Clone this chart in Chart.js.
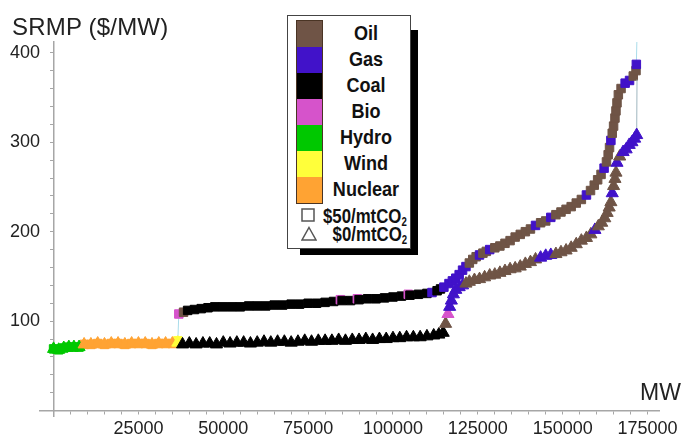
<!DOCTYPE html>
<html>
<head>
<meta charset="utf-8">
<script src="https://cdn.jsdelivr.net/npm/chart.js@4.4.1/dist/chart.umd.min.js"></script>
<style>
  html, body { margin: 0; padding: 0; background: #fff; }
  #wrap { position: relative; width: 683px; height: 439px; overflow: hidden;
          font-family: "Liberation Sans", Arial, sans-serif; color: #222; }
  #c { position: absolute; left: 0; top: 0; }
  .ttl { position: absolute; line-height: 1; white-space: nowrap; }
  #yTitle { left: 12px; top: 15px; font-size: 24px; letter-spacing: 0.2px; }
  #xTitle { left: 640px; top: 381px; font-size: 23px; }
  #legendShadow { position: absolute; left: 300px; top: 30px; width: 118px; height: 225px; background: #000; }
  #legend { position: absolute; left: 287px; top: 15px; width: 122px; height: 232px;
            background: #fff; border: 1.5px solid #444;
            font-family: "Liberation Sans", Arial, sans-serif; font-weight: bold; color: #111; }
  #swatches { position: absolute; left: 8px; top: 4px; width: 25px; border: 1px solid #4a3424; }
  .sw { height: 26px; }
  .fuelLabel { position: absolute; left: 36px; width: 84px; height: 26px; line-height: 26px;
               text-align: center; font-size: 21px; transform: scaleX(0.86); transform-origin: 50% 50%; }
  .co2 { position: absolute; right: 3px; height: 18px; line-height: 18px; font-size: 21px; white-space: nowrap;
         transform: scaleX(0.8); transform-origin: 100% 50%; }
  .co2 sub { font-size: 12px; vertical-align: -3px; line-height: 0; }
  .sym { position: absolute; left: 13px; }
</style>
</head>
<body>
<div id="wrap">
  <canvas id="c" width="683" height="439"></canvas>
  <div class="ttl" id="yTitle">SRMP ($/MW)</div>
  <div class="ttl" id="xTitle">MW</div>
  <div id="legendShadow"></div>
  <div id="legend"></div>
</div>
<script>
// Fuel types in merit-order legend order, with their marker colours
const fuelNames = ['Oil', 'Gas', 'Coal', 'Bio', 'Hydro', 'Wind', 'Nuclear'];
const fuelCodes = ['O', 'G', 'C', 'B', 'H', 'W', 'N'];
const fuelColors = ['#6f5446', '#4112c9', '#000000', '#d653cb', '#00c800', '#ffff3a', '#ffa333'];

// Supply curve at $50/mtCO2 (cumulative capacity in MW, short-run marginal price in $/MW)
const mw50 = [
  0, 1500, 3000, 4500, 6000, 7500,
  9000, 11000, 13000, 15000, 17000, 19000, 21000, 23000, 25000, 27000, 29000, 31000, 33000, 35000,
  36600, 36900, 38300,
  39500, 41500, 43500, 45500, 47500, 50000, 52500, 55000, 57500, 60000,
  62500, 65000, 67500, 70000, 72500, 75000, 77500, 80000, 82500, 84500,
  85000, 87500, 89500, 90000, 92500, 95000, 97500, 100000, 102500, 104500,
  105000, 107500, 110000,
  111500, 113000, 114000, 115000, 116500, 117500, 118500, 119500, 120500, 121500,
  122500, 123500, 124500, 125500, 126500, 127500, 128500, 130000, 131500, 133000,
  134500, 136000, 137500, 139000, 140500, 142000, 143500, 145000, 146500, 148000,
  149500, 151000, 152500, 154000, 155500, 157000, 158200, 159300, 160300, 161300,
  162200, 162900, 163400, 163800, 164200, 164600, 165000, 165400, 165700, 166000,
  166400, 167200, 168400, 169700, 170800, 171600, 171700, 171900
];
const price50 = [
  69, 68, 70, 71, 71, 71,
  74, 74, 75, 74, 75, 75, 74, 75, 75, 75, 74, 75, 75, 75,
  78, 108, 110,
  112, 113, 114, 115, 116, 116, 116, 116, 117, 117,
  117, 118, 118, 119, 119, 120, 120, 121, 122, 124,
  123, 123, 125, 124, 125, 125, 126, 127, 128, 130,
  129, 130, 131,
  132, 134, 136, 138, 142, 145, 148, 152, 157, 161,
  165, 169, 172, 174, 176, 178, 180, 182, 184, 187,
  190, 194, 197, 200, 203, 207, 210, 212, 216, 219,
  222, 225, 228, 232, 236, 241, 246, 252, 258, 264,
  271, 278, 286, 294, 302, 310, 318, 327, 335, 344,
  353, 360, 366, 369, 374, 380, 387, 420
];
const fuel50 = [
  'H','H','H','H','H','H',
  'N','N','N','N','N','N','N','N','N','N','N','N','N','N',
  'W','B','O',
  'C','C','C','C','C','C','C','C','C','C',
  'C','C','C','C','C','C','C','C','C','B',
  'C','C','B','C','C','C','C','C','C','B',
  'C','C','C',
  'G','C','C','G','G','G','G','G','G','G',
  'O','O','O','G','O','O','G','O','O','O',
  'O','O','O','O','O','G','O','O','G','O',
  'O','O','O','O','O','G','O','O','O','O',
  'G','O','O','O','G','O','O','O','O','O',
  'O','O','G','G','O','O','G','-'
];

// Supply curve at $0/mtCO2
const mw0 = [
  0, 1500, 3000, 4500, 6000, 7500,
  9000, 11000, 13000, 15000, 17000, 19000, 21000, 23000, 25000, 27000, 29000, 31000, 33000, 35000,
  36600,
  38000, 40000, 42000, 44000, 46000, 48000, 50000, 52000, 54000, 56000,
  58000, 60000, 62000, 64000, 66000, 68000, 70000, 72000, 74000, 76000,
  78000, 80000, 82000, 84000, 86000, 88000, 90000, 92000, 94000, 96000,
  98000, 100000, 102000, 104000, 106000, 108000, 110000, 112000, 113500, 114800,
  115500, 116200, 116700, 117200, 117800, 118500, 119500, 120500, 121500, 122500,
  124000, 125500, 127000, 128500, 130000, 131500, 133000, 134500, 136000, 137500,
  139000, 140500, 142000, 143500, 145000, 146500, 148000, 149500, 151000, 152500,
  154000, 155500, 157000, 158300, 159500, 160500, 161500, 162400, 163100, 163700,
  164200, 164600, 165000, 165400, 165700, 166000, 166800, 167800, 168700, 169600,
  170400, 171200, 171800, 171900
];
const price0 = [
  69, 68, 70, 71, 71, 71,
  74, 74, 75, 74, 75, 75, 74, 75, 75, 75, 74, 75, 75, 75,
  76,
  74, 75, 74, 75, 75, 74, 76, 75, 76, 76,
  75, 76, 77, 76, 77, 77, 76, 77, 78, 77,
  78, 78, 78, 79, 78, 79, 79, 80, 79, 80,
  80, 81, 81, 82, 82, 82, 83, 84, 85, 87,
  97, 108, 116, 123, 130, 135, 138, 140, 142, 144,
  146, 147, 149, 151, 152, 154, 156, 158, 159, 161,
  164, 166, 169, 171, 173, 174, 175, 177, 179, 182,
  186, 190, 193, 197, 202, 206, 210, 215, 221, 227,
  233, 243, 251, 259, 266, 277, 284, 289, 292, 297,
  300, 304, 308, 370
];
const fuel0 = [
  'H','H','H','H','H','H',
  'N','N','N','N','N','N','N','N','N','N','N','N','N','N',
  'W',
  'C','C','C','C','C','C','C','C','C','C',
  'C','C','C','C','C','C','C','C','C','C',
  'C','C','C','C','C','C','C','C','C','C',
  'C','C','C','C','C','C','C','C','C','C',
  'O','B','G','G','G','G','G','G','O','O',
  'O','O','O','O','O','O','O','O','O','O',
  'O','O','O','G','G','G','O','O','O','O',
  'O','O','O','O','G','O','O','O','O','O',
  'O','G','O','O','O','G','O','G','G','G',
  'G','G','G','-'
];

// Axis ticks: labelled majors with small minor marks between them
const xMajorStep = 25000, xMinorStep = 5000, xLastTick = 175000;
const yMajorStep = 100, yMinorStep = 20, yLastTick = 400;

function tickValues(step, last) {
  const out = [];
  for (let v = 0; v <= last; v += step) out.push({ value: v });
  return out;
}

function colorOf(code) {
  const i = fuelCodes.indexOf(code);
  return i < 0 ? 'rgba(0,0,0,0)' : fuelColors[i];
}

function makeSeries(label, mw, price, fuel, shape, radius, lineColor, order) {
  const cols = fuel.map(colorOf);
  return {
    label,
    data: mw.map((x, i) => ({ x, y: price[i] })),
    showLine: true,
    borderColor: lineColor,
    borderWidth: 1,
    pointStyle: shape,
    pointRadius: fuel.map(f => f === '-' ? 0 : radius),
    pointBackgroundColor: cols,
    pointBorderColor: cols,
    pointBorderWidth: 1,
    order
  };
}

const axisGrey = '#a6a6a6';
const tickFont = { family: 'Liberation Sans', size: 18 };
// A y axis pinned at x = 0 right-aligns its labels on the axis line itself,
// so trailing spacing keeps them clear of the line
const yLabelGap = '  \u2009';

new Chart(document.getElementById('c'), {
  type: 'scatter',
  data: {
    datasets: [
      makeSeries('$0/mtCO2', mw0, price0, fuel0, 'triangle', 7, '#9fb6bf', 0),
      makeSeries('$50/mtCO2', mw50, price50, fuel50, 'rect', 6, '#a9dcea', 1)
    ]
  },
  options: {
    responsive: false,
    animation: false,
    devicePixelRatio: 1,
    layout: { padding: { left: 40, right: 23, top: 42, bottom: 23 } },
    plugins: { legend: { display: false }, tooltip: { enabled: false } },
    scales: {
      x: {
        type: 'linear', min: -4000, max: 178400, position: { y: 0 },
        afterBuildTicks: s => { s.ticks = tickValues(xMinorStep, xLastTick); },
        grid: { drawOnChartArea: false, drawTicks: true, tickLength: 3, color: axisGrey },
        border: { color: axisGrey, width: 1.5 },
        ticks: {
          autoSkip: false, maxRotation: 0, minRotation: 0,
          padding: 5, color: '#222', font: tickFont,
          callback: v => (v > 0 && v % xMajorStep === 0) ? String(v) : ''
        }
      },
      y: {
        type: 'linear', min: -6, max: 412, position: { x: 0 },
        afterBuildTicks: s => { s.ticks = tickValues(yMinorStep, yLastTick); },
        grid: { drawOnChartArea: false, drawTicks: true, tickLength: 3, color: axisGrey },
        border: { color: axisGrey, width: 1.5 },
        ticks: {
          autoSkip: false,
          padding: 8, color: '#222', font: tickFont,
          callback: v => (v > 0 && v % yMajorStep === 0) ? String(v) + yLabelGap : ''
        }
      }
    }
  }
});

// Legend: fuel colour swatches plus the two carbon-price marker shapes
const legend = document.getElementById('legend');
const sw = document.createElement('div');
sw.id = 'swatches';
fuelNames.forEach((name, i) => {
  const s = document.createElement('div');
  s.className = 'sw';
  s.style.background = fuelColors[i];
  sw.appendChild(s);
  const t = document.createElement('div');
  t.className = 'fuelLabel';
  t.style.top = (4 + i * 26) + 'px';
  t.textContent = name;
  legend.appendChild(t);
});
legend.appendChild(sw);

const carbonLabels = ['$50/mtCO', '$0/mtCO'];
const carbonShapes = [
  '<svg width="14" height="14"><rect x="1" y="1" width="12" height="12" fill="none" stroke="#555" stroke-width="1.5"/></svg>',
  '<svg width="16" height="15"><polygon points="8,1.5 15,14 1,14" fill="none" stroke="#555" stroke-width="1.5"/></svg>'
];
carbonLabels.forEach((lab, i) => {
  const top = 191 + i * 18;
  const s = document.createElement('div');
  s.className = 'sym';
  s.style.top = (top + 1) + 'px';
  s.innerHTML = carbonShapes[i];
  legend.appendChild(s);
  const t = document.createElement('div');
  t.className = 'co2';
  t.style.top = top + 'px';
  t.innerHTML = lab + '<sub>2</sub>';
  legend.appendChild(t);
});
</script>
</body>
</html>
